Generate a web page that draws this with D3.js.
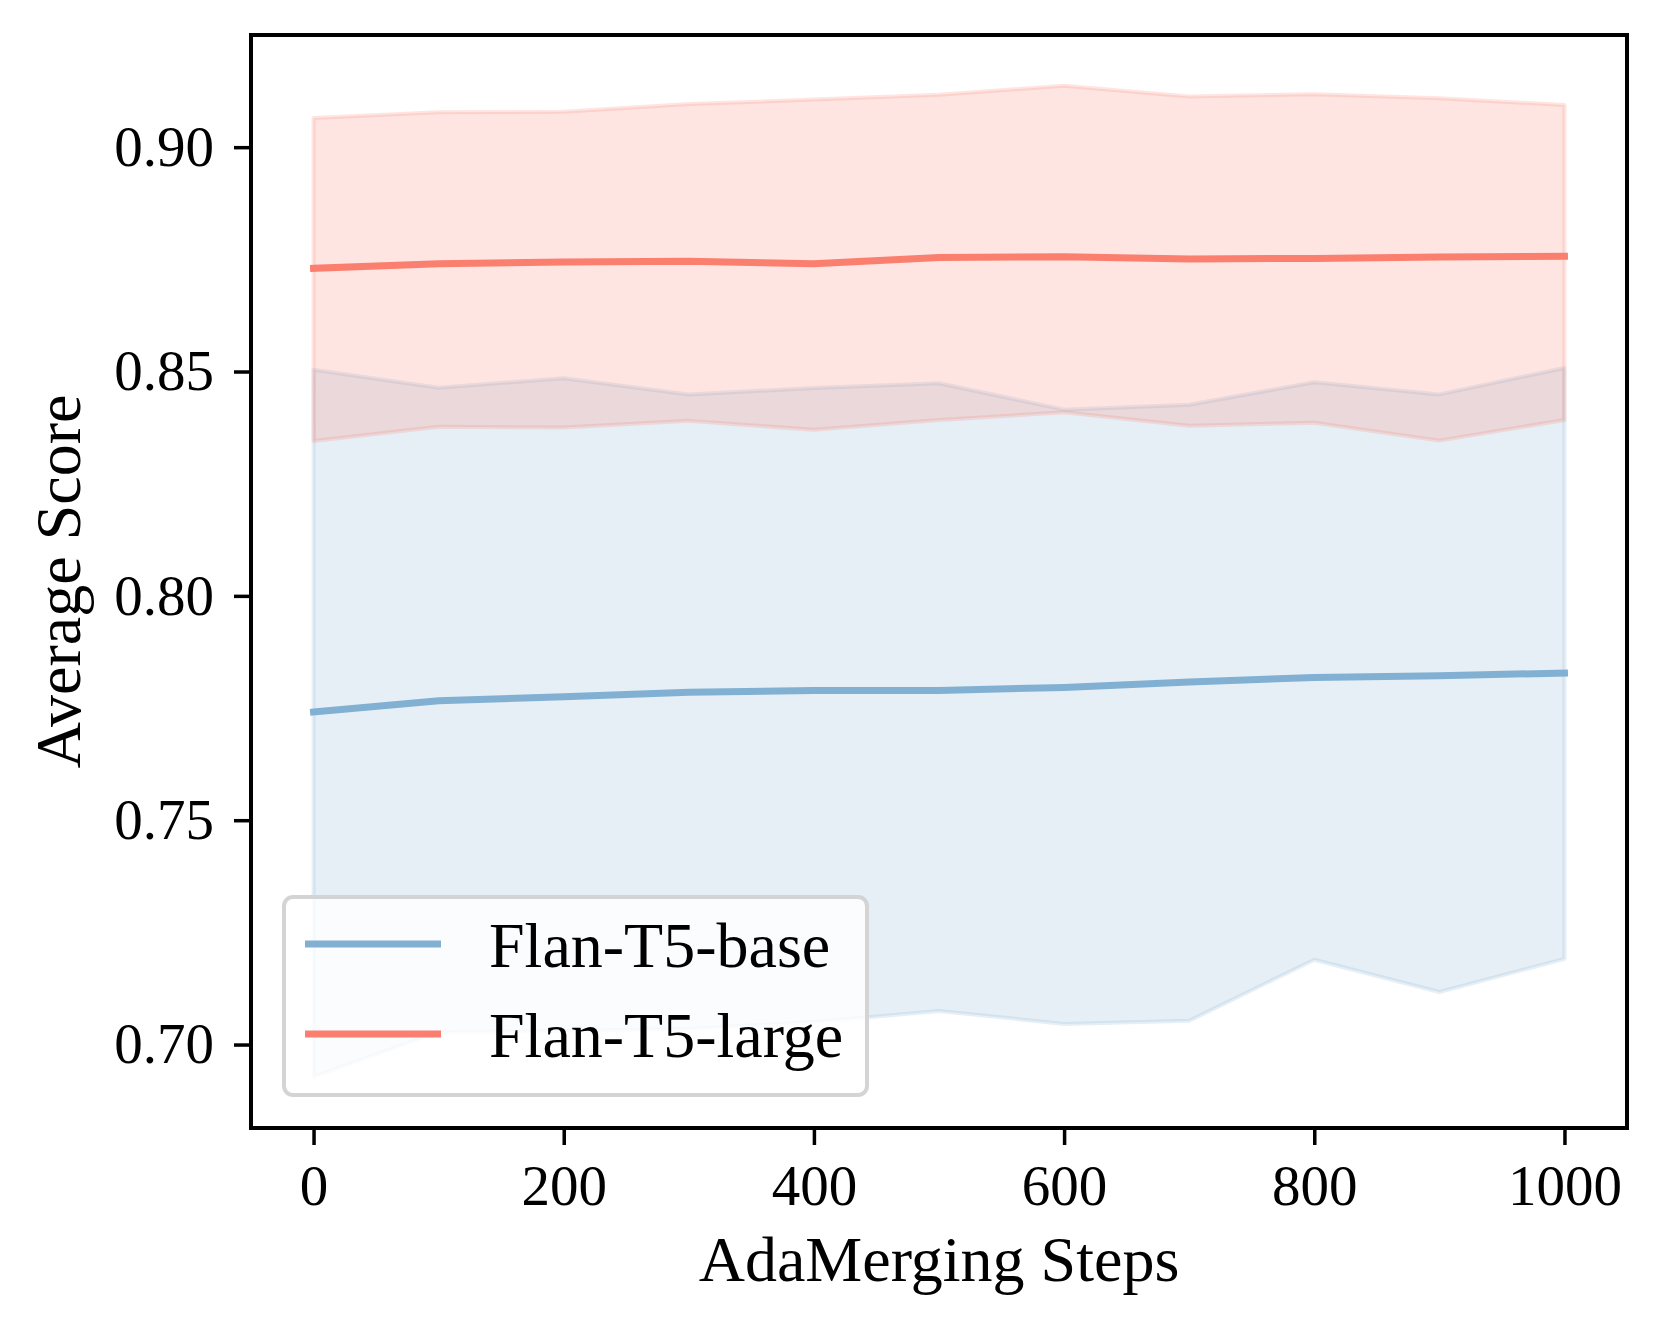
<!DOCTYPE html>
<html>
<head>
<meta charset="utf-8">
<script src="https://cdn.jsdelivr.net/npm/d3@7"></script>
<style>
body { margin: 0; background: #fff; }
text { font-family: "Liberation Serif", "Times New Roman", serif; fill: #000; }
</style>
</head>
<body>
<div id="chart"></div>
<script>
//values
var steps = [0, 100, 200, 300, 400, 500, 600, 700, 800, 900, 1000];

var baseMean  = [0.7741, 0.7766, 0.7775, 0.7785, 0.7789, 0.7789, 0.7796, 0.7808, 0.7818, 0.7822, 0.7828];
var baseUpper = [0.8504, 0.8464, 0.8485, 0.8449, 0.8463, 0.8474, 0.8415, 0.8426, 0.8476, 0.8449, 0.8508];
var baseLower = [0.6928, 0.7028, 0.7030, 0.7035, 0.7050, 0.7075, 0.7046, 0.7053, 0.7189, 0.7117, 0.7191];

var largeMean  = [0.8730, 0.8740, 0.8744, 0.8746, 0.8740, 0.8754, 0.8756, 0.8751, 0.8752, 0.8755, 0.8757];
var largeUpper = [0.9065, 0.9078, 0.9079, 0.9096, 0.9106, 0.9117, 0.9137, 0.9113, 0.9118, 0.9109, 0.9094];
var largeLower = [0.8345, 0.8377, 0.8375, 0.8390, 0.8370, 0.8392, 0.8409, 0.8379, 0.8386, 0.8346, 0.8392];

var seriesNames = ["Flan-T5-base", "Flan-T5-large"];
var xTicks = [0, 200, 400, 600, 800, 1000];
var yTicks = [0.70, 0.75, 0.80, 0.85, 0.90];

//layout
var W = 1662, H = 1330;
var plot = {left: 251, right: 1627, top: 35, bottom: 1128};
var colors = {base: "#82B0D2", large: "#FA7F6F"};

var svg = d3.select("#chart").append("svg")
	.attr("width", W)
	.attr("height", H);

svg.append("rect").attr("width", W).attr("height", H).attr("fill", "#fff");

var x = d3.scaleLinear().domain([-50, 1050]).range([plot.left, plot.right]);
var y = d3.scaleLinear().domain([0.6814, 0.925]).range([plot.bottom, plot.top]);

//build rows for each series so area/line can use them
function rows(mean, lo, hi) {
	return steps.map(function(s, i) { return {s: s, m: mean[i], lo: lo[i], hi: hi[i]}; });
}
var baseRows = rows(baseMean, baseLower, baseUpper);
var largeRows = rows(largeMean, largeLower, largeUpper);

var band = d3.area()
	.x(function(d) { return x(d.s); })
	.y0(function(d) { return y(d.lo); })
	.y1(function(d) { return y(d.hi); });

var line = d3.line()
	.x(function(d) { return x(d.s); })
	.y(function(d) { return y(d.m); });

var g = svg.append("g");

function drawSeries(data, color) {
	g.append("path")
		.attr("d", band(data) + "Z")
		.attr("fill", color)
		.attr("fill-opacity", 0.2)
		.attr("stroke", color)
		.attr("stroke-opacity", 0.2)
		.attr("stroke-width", 4)
		.attr("stroke-linejoin", "round");
	g.append("path")
		.attr("d", line(data))
		.attr("fill", "none")
		.attr("stroke", color)
		.attr("stroke-width", 7)
		.attr("stroke-linecap", "square");
}

drawSeries(baseRows, colors.base);
drawSeries(largeRows, colors.large);

//axes
var xAxis = svg.append("g")
	.attr("transform", "translate(0," + plot.bottom + ")")
	.call(d3.axisBottom(x).tickValues(xTicks).tickFormat(d3.format("d")).tickSize(17).tickPadding(20));

var yAxis = svg.append("g")
	.attr("transform", "translate(" + plot.left + ",0)")
	.call(d3.axisLeft(y).tickValues(yTicks).tickFormat(d3.format(".2f")).tickSize(17).tickPadding(20));

[xAxis, yAxis].forEach(function(a) {
	a.select(".domain").remove();
	a.selectAll(".tick line").attr("stroke", "#000").attr("stroke-width", 3.5);
	a.selectAll(".tick text")
		.attr("font-family", "Liberation Serif, Times New Roman, serif")
		.attr("font-size", 57)
		.attr("fill", "#000");
});

//frame around the plot
svg.append("rect")
	.attr("x", plot.left)
	.attr("y", plot.top)
	.attr("width", plot.right - plot.left)
	.attr("height", plot.bottom - plot.top)
	.attr("fill", "none")
	.attr("stroke", "#000")
	.attr("stroke-width", 4);

//axis labels
svg.append("text")
	.attr("x", (plot.left + plot.right) / 2)
	.attr("y", 1281)
	.attr("text-anchor", "middle")
	.attr("font-size", 64)
	.text("AdaMerging Steps");

svg.append("text")
	.attr("transform", "translate(80," + (plot.top + plot.bottom) / 2 + ") rotate(-90)")
	.attr("text-anchor", "middle")
	.attr("font-size", 64)
	.text("Average Score");

//legend
var legend = svg.append("g");
legend.append("rect")
	.attr("x", 284)
	.attr("y", 897)
	.attr("width", 583)
	.attr("height", 198)
	.attr("rx", 9)
	.attr("fill", "#fff")
	.attr("fill-opacity", 0.8)
	.attr("stroke", "#d4d4d4")
	.attr("stroke-width", 4);

var legendRows = [
	{name: seriesNames[0], color: colors.base, y: 944},
	{name: seriesNames[1], color: colors.large, y: 1034}
];

legendRows.forEach(function(r) {
	legend.append("line")
		.attr("x1", 305).attr("x2", 441)
		.attr("y1", r.y).attr("y2", r.y)
		.attr("stroke", r.color)
		.attr("stroke-width", 7);
	legend.append("text")
		.attr("x", 489)
		.attr("y", r.y + 23)
		.attr("font-size", 64)
		.text(r.name);
});
</script>
</body>
</html>
